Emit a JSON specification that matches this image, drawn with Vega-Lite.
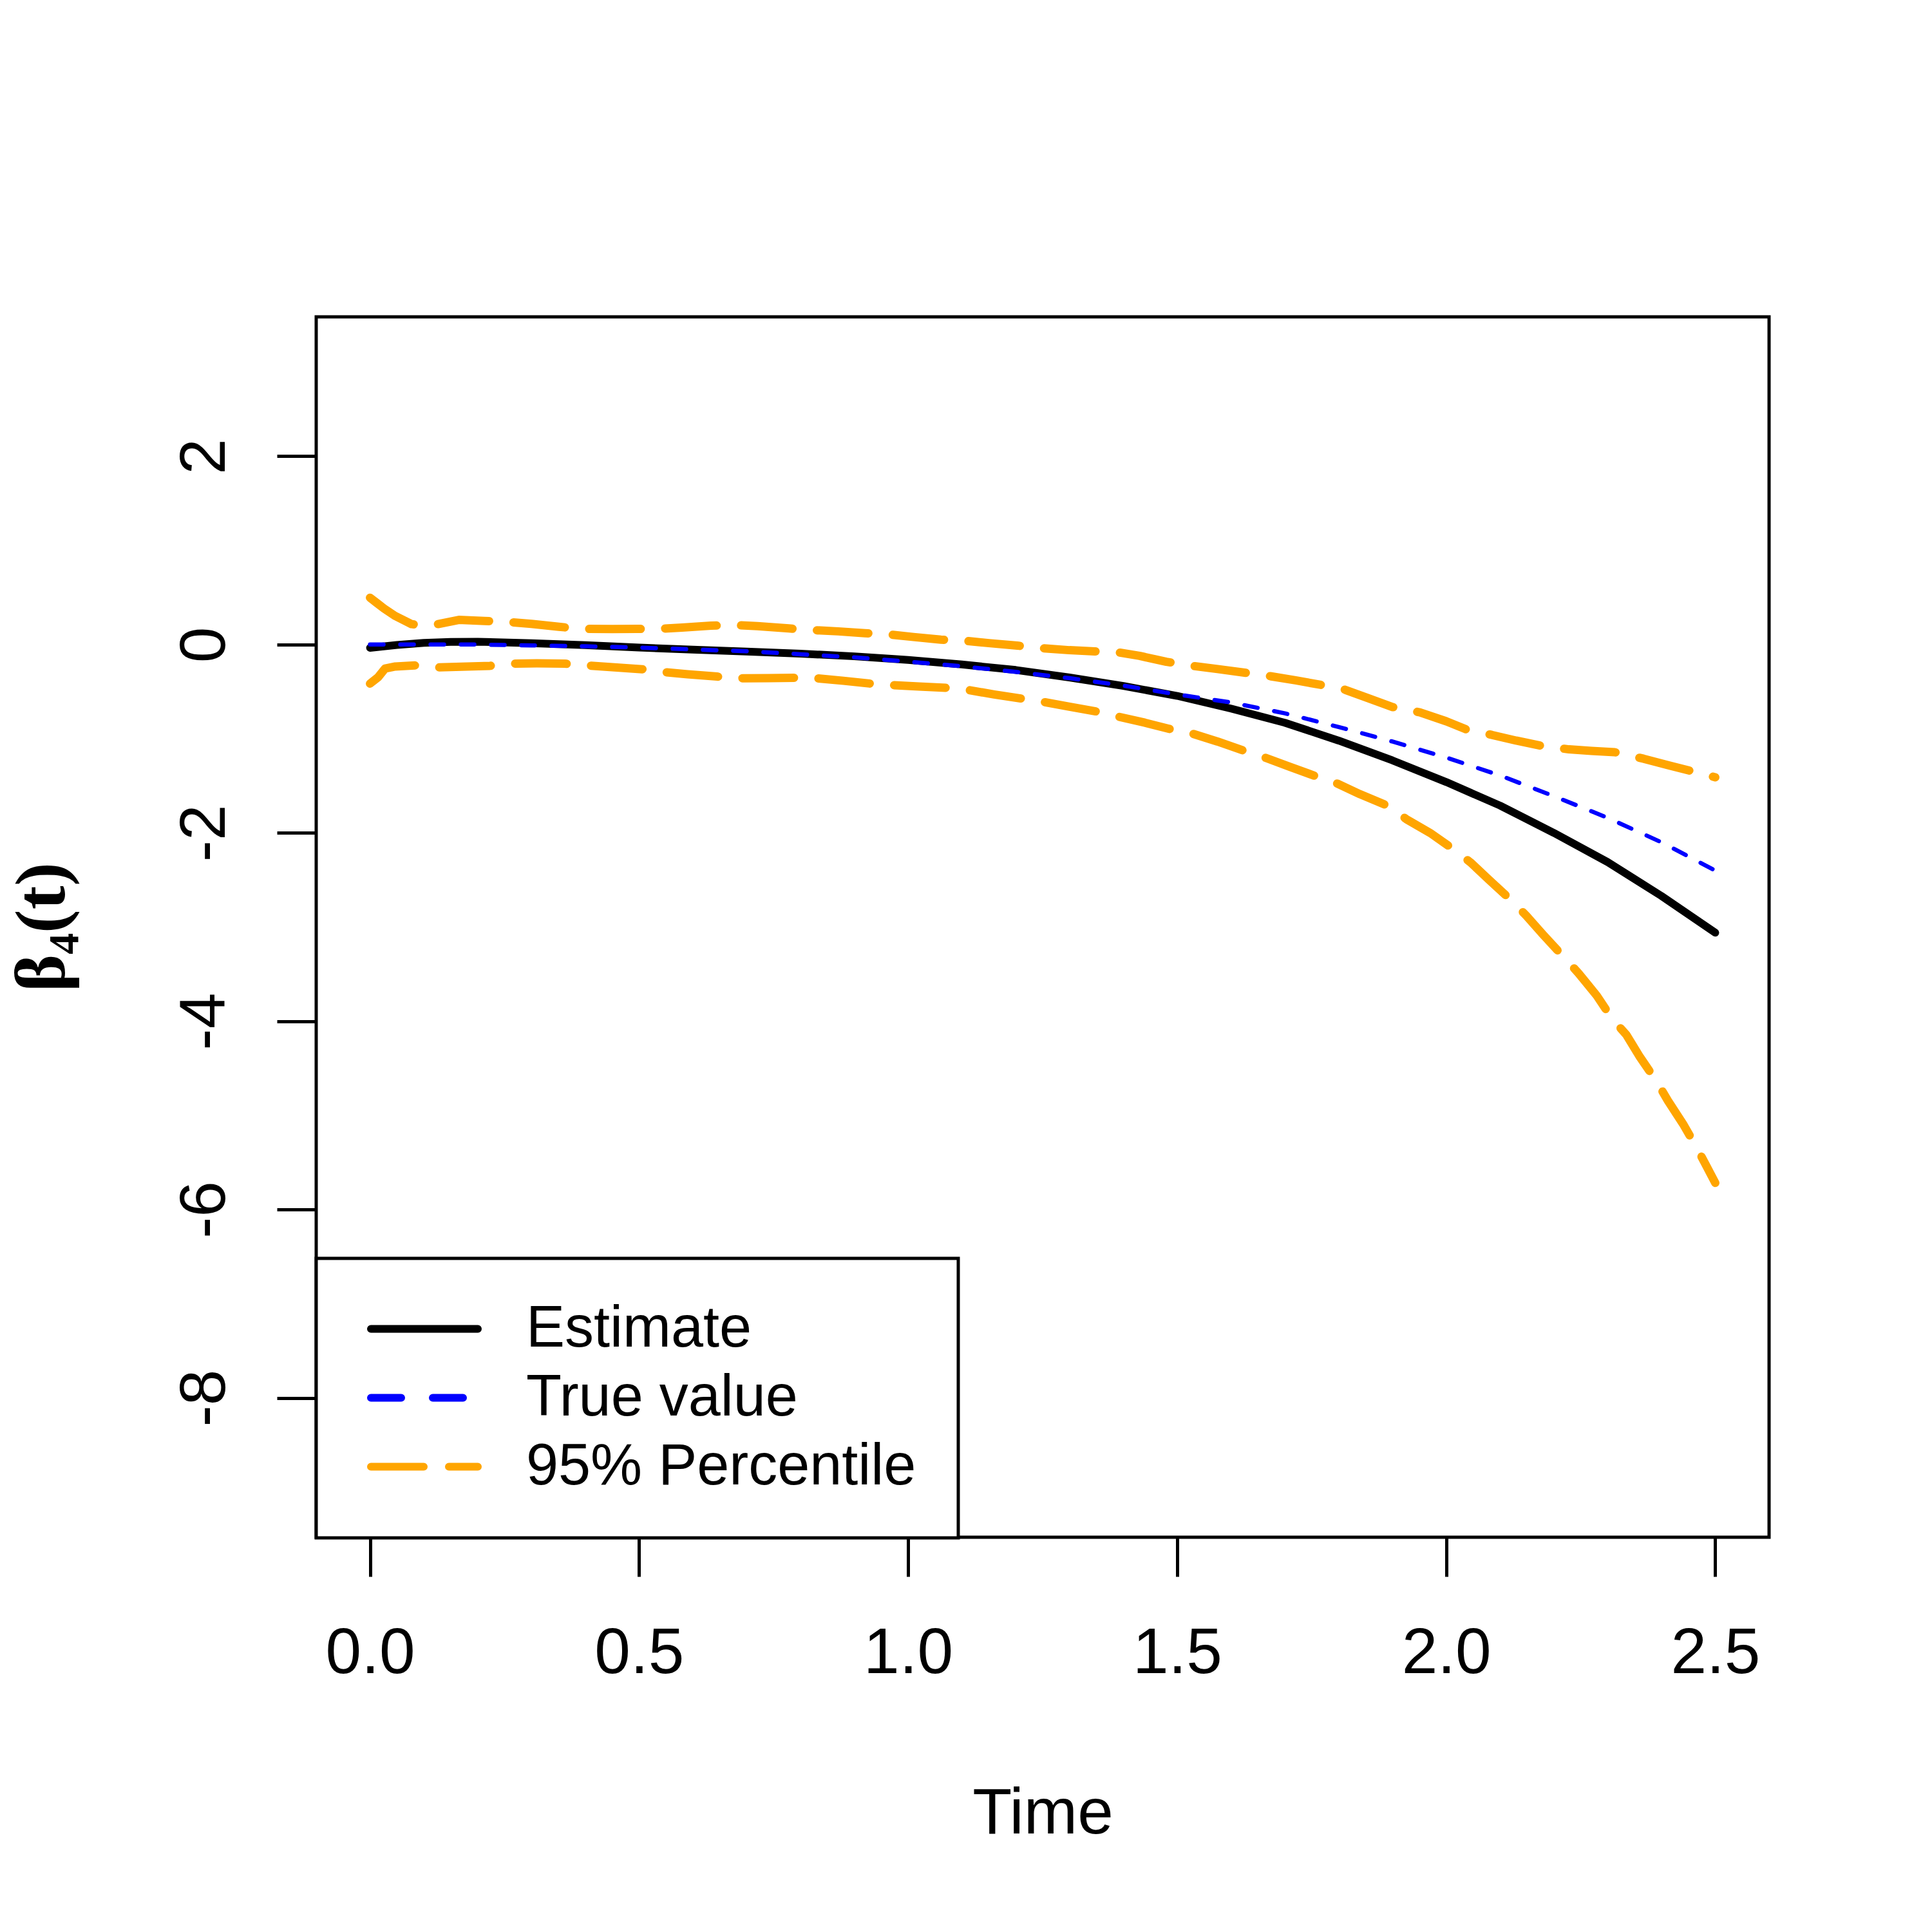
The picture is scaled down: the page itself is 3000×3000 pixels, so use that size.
{
  "$schema": "https://vega.github.io/schema/vega-lite/v6.json",
  "width": 2256,
  "height": 1895,
  "autosize": {"type": "none"},
  "padding": {"left": 491, "top": 492, "right": 253, "bottom": 613},
  "background": "white",
  "config": {
    "view": {"stroke": "black", "strokeWidth": 5},
    "font": "Liberation Sans"
  },
  "data": {
    "values": [
      {"time": 0.0, "value": -0.035, "series": "Estimate", "curve": "est"},
      {"time": 0.05, "value": -0.005, "series": "Estimate", "curve": "est"},
      {"time": 0.1, "value": 0.018, "series": "Estimate", "curve": "est"},
      {"time": 0.15, "value": 0.028, "series": "Estimate", "curve": "est"},
      {"time": 0.2, "value": 0.03, "series": "Estimate", "curve": "est"},
      {"time": 0.3, "value": 0.014, "series": "Estimate", "curve": "est"},
      {"time": 0.4, "value": -0.006, "series": "Estimate", "curve": "est"},
      {"time": 0.5, "value": -0.032, "series": "Estimate", "curve": "est"},
      {"time": 0.6, "value": -0.054, "series": "Estimate", "curve": "est"},
      {"time": 0.7, "value": -0.075, "series": "Estimate", "curve": "est"},
      {"time": 0.8, "value": -0.097, "series": "Estimate", "curve": "est"},
      {"time": 0.9, "value": -0.125, "series": "Estimate", "curve": "est"},
      {"time": 1.0, "value": -0.163, "series": "Estimate", "curve": "est"},
      {"time": 1.1, "value": -0.212, "series": "Estimate", "curve": "est"},
      {"time": 1.2, "value": -0.27, "series": "Estimate", "curve": "est"},
      {"time": 1.3, "value": -0.35, "series": "Estimate", "curve": "est"},
      {"time": 1.4, "value": -0.44, "series": "Estimate", "curve": "est"},
      {"time": 1.5, "value": -0.545, "series": "Estimate", "curve": "est"},
      {"time": 1.6, "value": -0.68, "series": "Estimate", "curve": "est"},
      {"time": 1.7, "value": -0.83, "series": "Estimate", "curve": "est"},
      {"time": 1.8, "value": -1.02, "series": "Estimate", "curve": "est"},
      {"time": 1.9, "value": -1.23, "series": "Estimate", "curve": "est"},
      {"time": 2.0, "value": -1.46, "series": "Estimate", "curve": "est"},
      {"time": 2.1, "value": -1.71, "series": "Estimate", "curve": "est"},
      {"time": 2.2, "value": -2.0, "series": "Estimate", "curve": "est"},
      {"time": 2.3, "value": -2.31, "series": "Estimate", "curve": "est"},
      {"time": 2.4, "value": -2.67, "series": "Estimate", "curve": "est"},
      {"time": 2.5, "value": -3.06, "series": "Estimate", "curve": "est"},

      {"time": 0.0, "value": 0.0, "series": "True value", "curve": "true"},
      {"time": 0.1, "value": 0.0, "series": "True value", "curve": "true"},
      {"time": 0.2, "value": 0.0, "series": "True value", "curve": "true"},
      {"time": 0.3, "value": -0.009, "series": "True value", "curve": "true"},
      {"time": 0.4, "value": -0.019, "series": "True value", "curve": "true"},
      {"time": 0.5, "value": -0.032, "series": "True value", "curve": "true"},
      {"time": 0.6, "value": -0.052, "series": "True value", "curve": "true"},
      {"time": 0.7, "value": -0.071, "series": "True value", "curve": "true"},
      {"time": 0.8, "value": -0.103, "series": "True value", "curve": "true"},
      {"time": 0.9, "value": -0.136, "series": "True value", "curve": "true"},
      {"time": 1.0, "value": -0.181, "series": "True value", "curve": "true"},
      {"time": 1.1, "value": -0.231, "series": "True value", "curve": "true"},
      {"time": 1.2, "value": -0.29, "series": "True value", "curve": "true"},
      {"time": 1.3, "value": -0.357, "series": "True value", "curve": "true"},
      {"time": 1.4, "value": -0.436, "series": "True value", "curve": "true"},
      {"time": 1.5, "value": -0.53, "series": "True value", "curve": "true"},
      {"time": 1.6, "value": -0.615, "series": "True value", "curve": "true"},
      {"time": 1.7, "value": -0.73, "series": "True value", "curve": "true"},
      {"time": 1.8, "value": -0.875, "series": "True value", "curve": "true"},
      {"time": 1.9, "value": -1.03, "series": "True value", "curve": "true"},
      {"time": 2.0, "value": -1.2, "series": "True value", "curve": "true"},
      {"time": 2.1, "value": -1.39, "series": "True value", "curve": "true"},
      {"time": 2.2, "value": -1.61, "series": "True value", "curve": "true"},
      {"time": 2.3, "value": -1.84, "series": "True value", "curve": "true"},
      {"time": 2.4, "value": -2.1, "series": "True value", "curve": "true"},
      {"time": 2.5, "value": -2.4, "series": "True value", "curve": "true"},

      {"time": 0.0, "value": 0.497, "series": "95% Percentile", "curve": "upper"},
      {"time": 0.013, "value": 0.44, "series": "95% Percentile", "curve": "upper"},
      {"time": 0.026, "value": 0.383, "series": "95% Percentile", "curve": "upper"},
      {"time": 0.047, "value": 0.303, "series": "95% Percentile", "curve": "upper"},
      {"time": 0.077, "value": 0.217, "series": "95% Percentile", "curve": "upper"},
      {"time": 0.1, "value": 0.205, "series": "95% Percentile", "curve": "upper"},
      {"time": 0.117, "value": 0.207, "series": "95% Percentile", "curve": "upper"},
      {"time": 0.165, "value": 0.262, "series": "95% Percentile", "curve": "upper"},
      {"time": 0.213, "value": 0.251, "series": "95% Percentile", "curve": "upper"},
      {"time": 0.255, "value": 0.24, "series": "95% Percentile", "curve": "upper"},
      {"time": 0.3, "value": 0.22, "series": "95% Percentile", "curve": "upper"},
      {"time": 0.351, "value": 0.189, "series": "95% Percentile", "curve": "upper"},
      {"time": 0.391, "value": 0.166, "series": "95% Percentile", "curve": "upper"},
      {"time": 0.45, "value": 0.165, "series": "95% Percentile", "curve": "upper"},
      {"time": 0.496, "value": 0.166, "series": "95% Percentile", "curve": "upper"},
      {"time": 0.533, "value": 0.166, "series": "95% Percentile", "curve": "upper"},
      {"time": 0.58, "value": 0.18, "series": "95% Percentile", "curve": "upper"},
      {"time": 0.634, "value": 0.2, "series": "95% Percentile", "curve": "upper"},
      {"time": 0.677, "value": 0.207, "series": "95% Percentile", "curve": "upper"},
      {"time": 0.72, "value": 0.195, "series": "95% Percentile", "curve": "upper"},
      {"time": 0.778, "value": 0.171, "series": "95% Percentile", "curve": "upper"},
      {"time": 0.818, "value": 0.155, "series": "95% Percentile", "curve": "upper"},
      {"time": 0.87, "value": 0.14, "series": "95% Percentile", "curve": "upper"},
      {"time": 0.92, "value": 0.121, "series": "95% Percentile", "curve": "upper"},
      {"time": 0.96, "value": 0.11, "series": "95% Percentile", "curve": "upper"},
      {"time": 1.01, "value": 0.08, "series": "95% Percentile", "curve": "upper"},
      {"time": 1.061, "value": 0.052, "series": "95% Percentile", "curve": "upper"},
      {"time": 1.104, "value": 0.041, "series": "95% Percentile", "curve": "upper"},
      {"time": 1.15, "value": 0.015, "series": "95% Percentile", "curve": "upper"},
      {"time": 1.203, "value": -0.011, "series": "95% Percentile", "curve": "upper"},
      {"time": 1.243, "value": -0.037, "series": "95% Percentile", "curve": "upper"},
      {"time": 1.3, "value": -0.06, "series": "95% Percentile", "curve": "upper"},
      {"time": 1.347, "value": -0.073, "series": "95% Percentile", "curve": "upper"},
      {"time": 1.387, "value": -0.08, "series": "95% Percentile", "curve": "upper"},
      {"time": 1.43, "value": -0.12, "series": "95% Percentile", "curve": "upper"},
      {"time": 1.48, "value": -0.183, "series": "95% Percentile", "curve": "upper"},
      {"time": 1.529, "value": -0.227, "series": "95% Percentile", "curve": "upper"},
      {"time": 1.575, "value": -0.26, "series": "95% Percentile", "curve": "upper"},
      {"time": 1.623, "value": -0.297, "series": "95% Percentile", "curve": "upper"},
      {"time": 1.673, "value": -0.336, "series": "95% Percentile", "curve": "upper"},
      {"time": 1.72, "value": -0.38, "series": "95% Percentile", "curve": "upper"},
      {"time": 1.767, "value": -0.428, "series": "95% Percentile", "curve": "upper"},
      {"time": 1.812, "value": -0.48, "series": "95% Percentile", "curve": "upper"},
      {"time": 1.855, "value": -0.57, "series": "95% Percentile", "curve": "upper"},
      {"time": 1.9, "value": -0.663, "series": "95% Percentile", "curve": "upper"},
      {"time": 1.951, "value": -0.72, "series": "95% Percentile", "curve": "upper"},
      {"time": 2.0, "value": -0.815, "series": "95% Percentile", "curve": "upper"},
      {"time": 2.04, "value": -0.908, "series": "95% Percentile", "curve": "upper"},
      {"time": 2.085, "value": -0.96, "series": "95% Percentile", "curve": "upper"},
      {"time": 2.13, "value": -1.02, "series": "95% Percentile", "curve": "upper"},
      {"time": 2.179, "value": -1.078, "series": "95% Percentile", "curve": "upper"},
      {"time": 2.228, "value": -1.113, "series": "95% Percentile", "curve": "upper"},
      {"time": 2.27, "value": -1.13, "series": "95% Percentile", "curve": "upper"},
      {"time": 2.313, "value": -1.143, "series": "95% Percentile", "curve": "upper"},
      {"time": 2.367, "value": -1.213, "series": "95% Percentile", "curve": "upper"},
      {"time": 2.415, "value": -1.285, "series": "95% Percentile", "curve": "upper"},
      {"time": 2.462, "value": -1.353, "series": "95% Percentile", "curve": "upper"},
      {"time": 2.5, "value": -1.41, "series": "95% Percentile", "curve": "upper"},

      {"time": 0.0, "value": -0.415, "series": "95% Percentile", "curve": "lower"},
      {"time": 0.015, "value": -0.347, "series": "95% Percentile", "curve": "lower"},
      {"time": 0.028, "value": -0.255, "series": "95% Percentile", "curve": "lower"},
      {"time": 0.047, "value": -0.233, "series": "95% Percentile", "curve": "lower"},
      {"time": 0.085, "value": -0.221, "series": "95% Percentile", "curve": "lower"},
      {"time": 0.122, "value": -0.244, "series": "95% Percentile", "curve": "lower"},
      {"time": 0.17, "value": -0.235, "series": "95% Percentile", "curve": "lower"},
      {"time": 0.223, "value": -0.226, "series": "95% Percentile", "curve": "lower"},
      {"time": 0.261, "value": -0.203, "series": "95% Percentile", "curve": "lower"},
      {"time": 0.31, "value": -0.2, "series": "95% Percentile", "curve": "lower"},
      {"time": 0.362, "value": -0.203, "series": "95% Percentile", "curve": "lower"},
      {"time": 0.4, "value": -0.221, "series": "95% Percentile", "curve": "lower"},
      {"time": 0.45, "value": -0.24, "series": "95% Percentile", "curve": "lower"},
      {"time": 0.506, "value": -0.262, "series": "95% Percentile", "curve": "lower"},
      {"time": 0.541, "value": -0.29, "series": "95% Percentile", "curve": "lower"},
      {"time": 0.59, "value": -0.315, "series": "95% Percentile", "curve": "lower"},
      {"time": 0.645, "value": -0.34, "series": "95% Percentile", "curve": "lower"},
      {"time": 0.688, "value": -0.358, "series": "95% Percentile", "curve": "lower"},
      {"time": 0.74, "value": -0.356, "series": "95% Percentile", "curve": "lower"},
      {"time": 0.789, "value": -0.353, "series": "95% Percentile", "curve": "lower"},
      {"time": 0.829, "value": -0.358, "series": "95% Percentile", "curve": "lower"},
      {"time": 0.88, "value": -0.385, "series": "95% Percentile", "curve": "lower"},
      {"time": 0.93, "value": -0.415, "series": "95% Percentile", "curve": "lower"},
      {"time": 0.971, "value": -0.431, "series": "95% Percentile", "curve": "lower"},
      {"time": 1.02, "value": -0.445, "series": "95% Percentile", "curve": "lower"},
      {"time": 1.072, "value": -0.46, "series": "95% Percentile", "curve": "lower"},
      {"time": 1.112, "value": -0.483, "series": "95% Percentile", "curve": "lower"},
      {"time": 1.16, "value": -0.53, "series": "95% Percentile", "curve": "lower"},
      {"time": 1.211, "value": -0.574, "series": "95% Percentile", "curve": "lower"},
      {"time": 1.251, "value": -0.609, "series": "95% Percentile", "curve": "lower"},
      {"time": 1.3, "value": -0.66, "series": "95% Percentile", "curve": "lower"},
      {"time": 1.35, "value": -0.711, "series": "95% Percentile", "curve": "lower"},
      {"time": 1.39, "value": -0.765, "series": "95% Percentile", "curve": "lower"},
      {"time": 1.44, "value": -0.83, "series": "95% Percentile", "curve": "lower"},
      {"time": 1.485, "value": -0.895, "series": "95% Percentile", "curve": "lower"},
      {"time": 1.529, "value": -0.947, "series": "95% Percentile", "curve": "lower"},
      {"time": 1.575, "value": -1.03, "series": "95% Percentile", "curve": "lower"},
      {"time": 1.623, "value": -1.126, "series": "95% Percentile", "curve": "lower"},
      {"time": 1.663, "value": -1.2, "series": "95% Percentile", "curve": "lower"},
      {"time": 1.71, "value": -1.3, "series": "95% Percentile", "curve": "lower"},
      {"time": 1.757, "value": -1.397, "series": "95% Percentile", "curve": "lower"},
      {"time": 1.797, "value": -1.475, "series": "95% Percentile", "curve": "lower"},
      {"time": 1.84, "value": -1.59, "series": "95% Percentile", "curve": "lower"},
      {"time": 1.891, "value": -1.711, "series": "95% Percentile", "curve": "lower"},
      {"time": 1.926, "value": -1.855, "series": "95% Percentile", "curve": "lower"},
      {"time": 1.97, "value": -2.0, "series": "95% Percentile", "curve": "lower"},
      {"time": 2.01, "value": -2.16, "series": "95% Percentile", "curve": "lower"},
      {"time": 2.045, "value": -2.313, "series": "95% Percentile", "curve": "lower"},
      {"time": 2.08, "value": -2.5, "series": "95% Percentile", "curve": "lower"},
      {"time": 2.119, "value": -2.706, "series": "95% Percentile", "curve": "lower"},
      {"time": 2.149, "value": -2.88, "series": "95% Percentile", "curve": "lower"},
      {"time": 2.18, "value": -3.08, "series": "95% Percentile", "curve": "lower"},
      {"time": 2.218, "value": -3.317, "series": "95% Percentile", "curve": "lower"},
      {"time": 2.246, "value": -3.491, "series": "95% Percentile", "curve": "lower"},
      {"time": 2.28, "value": -3.73, "series": "95% Percentile", "curve": "lower"},
      {"time": 2.308, "value": -3.971, "series": "95% Percentile", "curve": "lower"},
      {"time": 2.335, "value": -4.146, "series": "95% Percentile", "curve": "lower"},
      {"time": 2.36, "value": -4.38, "series": "95% Percentile", "curve": "lower"},
      {"time": 2.392, "value": -4.648, "series": "95% Percentile", "curve": "lower"},
      {"time": 2.412, "value": -4.844, "series": "95% Percentile", "curve": "lower"},
      {"time": 2.44, "value": -5.09, "series": "95% Percentile", "curve": "lower"},
      {"time": 2.466, "value": -5.346, "series": "95% Percentile", "curve": "lower"},
      {"time": 2.484, "value": -5.543, "series": "95% Percentile", "curve": "lower"},
      {"time": 2.5, "value": -5.717, "series": "95% Percentile", "curve": "lower"}
    ]
  },
  "encoding": {
    "x": {
      "field": "time",
      "type": "quantitative",
      "scale": {"domain": [-0.1, 2.6], "nice": false, "zero": false},
      "axis": {
        "title": "Time",
        "values": [0, 0.5, 1, 1.5, 2, 2.5],
        "format": ".1f",
        "grid": false,
        "domain": false,
        "tickSize": 61,
        "tickWidth": 5,
        "tickColor": "black",
        "labelFont": "Liberation Sans",
        "labelFontSize": 100,
        "labelColor": "black",
        "labelPadding": 70,
        "labelFlush": false,
        "labelOverlap": false,
        "titleFont": "Liberation Sans",
        "titleFontSize": 100,
        "titleFontWeight": "normal",
        "titleColor": "black",
        "titleBaseline": "alphabetic",
        "titleY": 459
      }
    },
    "y": {
      "field": "value",
      "type": "quantitative",
      "scale": {"domain": [-9.48, 3.48], "nice": false, "zero": false},
      "axis": {
        "title": "β₄(t)",
        "values": [-8, -6, -4, -2, 0, 2],
        "labelExpr": "'' + datum.value",
        "grid": false,
        "domain": false,
        "tickSize": 61,
        "tickWidth": 5,
        "tickColor": "black",
        "labelFont": "Liberation Sans",
        "labelFontSize": 100,
        "labelColor": "black",
        "labelAngle": 270,
        "labelAlign": "center",
        "labelBaseline": "alphabetic",
        "labelPadding": 82,
        "labelOverlap": false,
        "titleFont": "Liberation Serif",
        "titleFontSize": 110,
        "titleFontWeight": "bold",
        "titleColor": "black",
        "titleAngle": 270,
        "titleAlign": "center",
        "titleBaseline": "alphabetic",
        "titleX": -392,
        "titleY": 947
      }
    },
    "color": {
      "field": "series",
      "type": "nominal",
      "scale": {
        "domain": ["Estimate", "True value", "95% Percentile"],
        "range": ["#000000", "#0000FF", "#FFA500"]
      },
      "legend": {
        "title": null,
        "orient": "none",
        "legendX": 0,
        "legendY": 1462,
        "direction": "vertical",
        "strokeColor": "black",
        "fillColor": "white",
        "padding": 65,
        "rowPadding": 16,
        "clipHeight": 89,
        "symbolType": "stroke",
        "symbolSize": 27556,
        "symbolStrokeWidth": 12,
        "symbolOffset": 14,
        "labelFont": "Liberation Sans",
        "labelFontSize": 90,
        "labelColor": "black",
        "labelOffset": 69,
        "labelLimit": 1200,
        "encode": {
          "legend": {"update": {"strokeWidth": {"value": 5}}},
          "symbols": {
            "update": {
              "strokeWidth": {"value": 12},
              "strokeCap": {"value": "round"},
              "strokeDash": {"signal": "datum.value === 'True value' ? [47, 49] : datum.value === '95% Percentile' ? [82, 39] : [1, 0]"}
            }
          }
        }
      }
    },
    "detail": {"field": "curve", "type": "nominal"}
  },
  "layer": [
    {
      "transform": [{"filter": "datum.series === '95% Percentile'"}],
      "mark": {"type": "line", "strokeWidth": 13, "strokeDash": [80, 38], "strokeCap": "round", "strokeJoin": "round"}
    },
    {
      "transform": [{"filter": "datum.series === 'Estimate'"}],
      "mark": {"type": "line", "strokeWidth": 12, "strokeCap": "round", "strokeJoin": "round"}
    },
    {
      "transform": [{"filter": "datum.series === 'True value'"}],
      "mark": {"type": "line", "strokeWidth": 6.5, "strokeDash": [21, 26], "strokeCap": "round", "strokeJoin": "round"}
    }
  ]
}
